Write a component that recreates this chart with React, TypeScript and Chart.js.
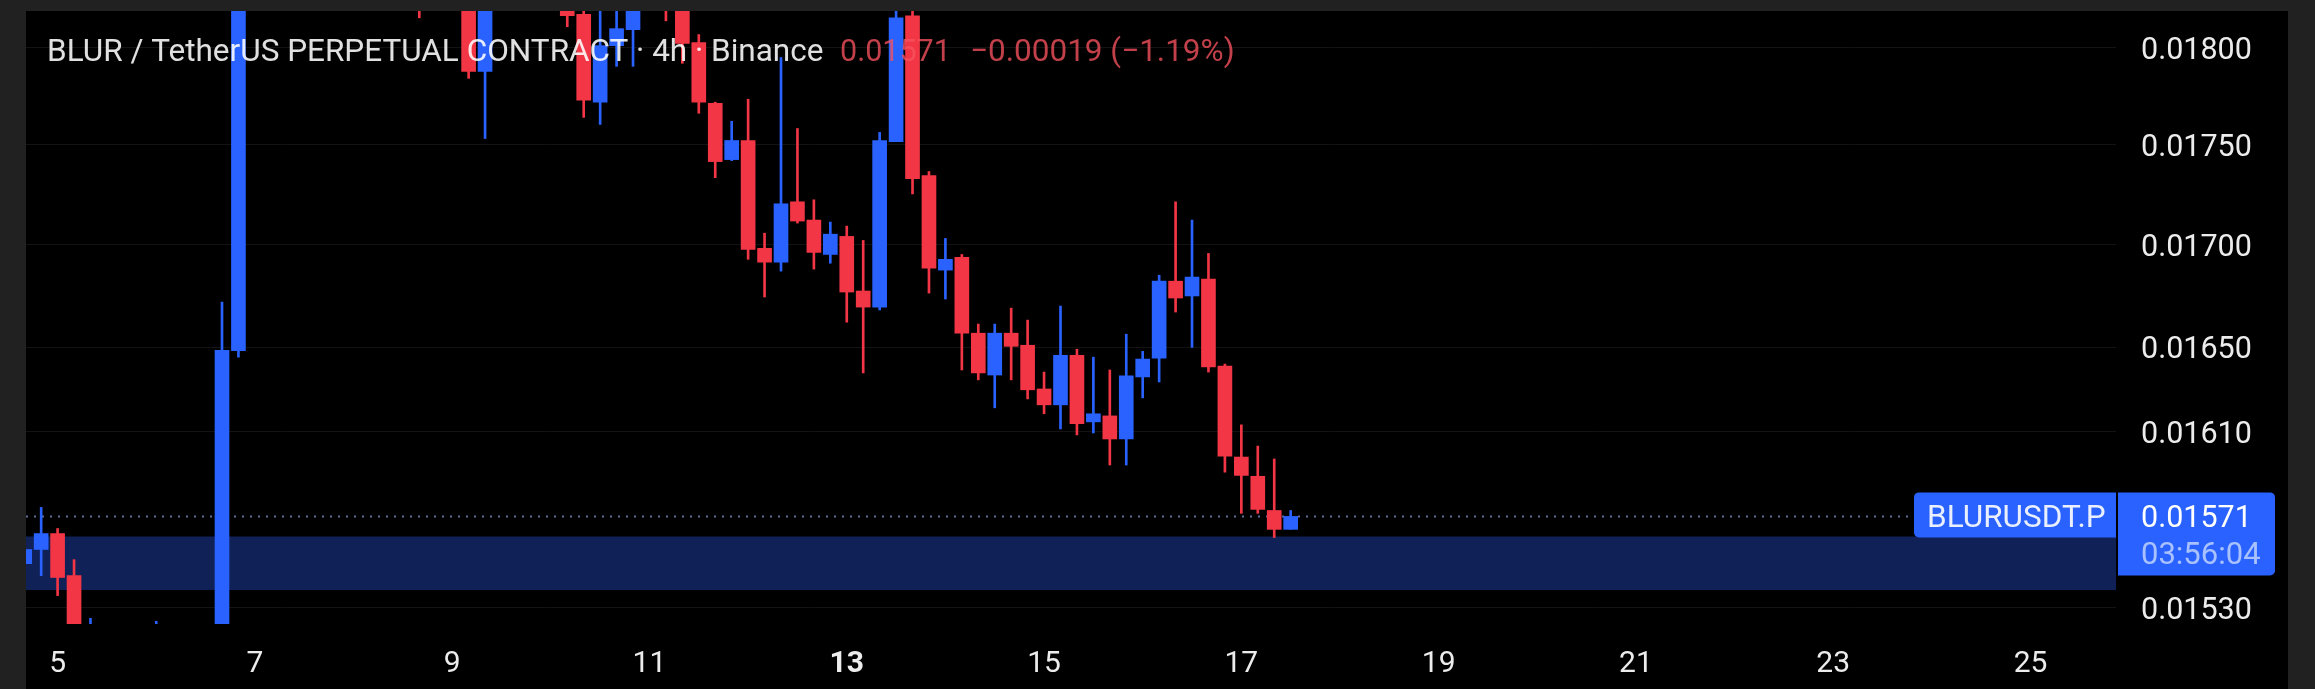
import React, { useEffect, useRef } from "react";
import { Chart, registerables } from "chart.js";

Chart.register(...registerables);

// candle slots: 0 is the first 4h bar of day 5, six bars per day
const slots = [-2, -1, 0, 1, 2, 6, 10, 11, 22, 25, 26, 31, 32, 33, 34, 35, 37, 38, 39, 40, 41, 42, 43, 44, 45, 46, 47, 48, 49, 50, 51, 52, 53, 54, 55, 56, 57, 58, 59, 60, 61, 62, 63, 64, 65, 66, 67, 68, 69, 70, 71, 72, 73, 74, 75];
const opens = [0.015496, 0.01556, 0.015632, 0.015442, 0.0149, 0.0149, 0.015, 0.016484, 0.0186, 0.0186, 0.017876, 0.0186, 0.018175, 0.017717, 0.01801, 0.018094, 0.0186, 0.0186, 0.018026, 0.017711, 0.017424, 0.017521, 0.016981, 0.016913, 0.017212, 0.017121, 0.016951, 0.01704, 0.016772, 0.016694, 0.017515, 0.018166, 0.017343, 0.016874, 0.016937, 0.016568, 0.016368, 0.016568, 0.01651, 0.016302, 0.016227, 0.016462, 0.016147, 0.016175, 0.016067, 0.016359, 0.016448, 0.01682, 0.016748, 0.01683, 0.016411, 0.015983, 0.015894, 0.015737, 0.015651];
const closes = [0.01556, 0.015632, 0.015434, 0.015, 0.015, 0.015, 0.016486, 0.0186, 0.0184, 0.017876, 0.0186, 0.018168, 0.017727, 0.01801, 0.018099, 0.0186, 0.0184, 0.018021, 0.017717, 0.017414, 0.017521, 0.016976, 0.016913, 0.017202, 0.017116, 0.016961, 0.017051, 0.016767, 0.016694, 0.017521, 0.018156, 0.017328, 0.016883, 0.016927, 0.016568, 0.016378, 0.016568, 0.016505, 0.016298, 0.016227, 0.016462, 0.016138, 0.016185, 0.016067, 0.016364, 0.016444, 0.01682, 0.016738, 0.01684, 0.016406, 0.015987, 0.015898, 0.015742, 0.015651, 0.01571];
const highs = [0.01556, 0.015751, 0.015655, 0.015514, 0.015252, 0.015239, 0.016718, 0.0186, 0.0187, 0.0187, 0.0187, 0.0187, 0.0186, 0.0186, 0.0186, 0.0187, 0.0187, 0.0187, 0.018068, 0.017717, 0.017619, 0.017732, 0.017056, 0.017948, 0.017582, 0.017222, 0.017111, 0.017091, 0.01702, 0.017562, 0.0186, 0.0186, 0.017364, 0.01703, 0.016951, 0.016612, 0.016612, 0.016689, 0.016631, 0.016382, 0.016699, 0.016491, 0.016453, 0.016392, 0.016563, 0.016481, 0.016849, 0.017212, 0.017121, 0.016956, 0.01642, 0.016133, 0.016034, 0.015974, 0.015737];
const lows = [0.015496, 0.015442, 0.015353, 0.015, 0.0149, 0.0149, 0.015, 0.016453, 0.018156, 0.01784, 0.017531, 0.018109, 0.017639, 0.017603, 0.017902, 0.017902, 0.01814, 0.017918, 0.01766, 0.017333, 0.017419, 0.016927, 0.016743, 0.016869, 0.017106, 0.016879, 0.016908, 0.016621, 0.016378, 0.01668, 0.017515, 0.017252, 0.016762, 0.016733, 0.016392, 0.016345, 0.016213, 0.016345, 0.016255, 0.016185, 0.016114, 0.016086, 0.016095, 0.015946, 0.015946, 0.01626, 0.016335, 0.01667, 0.0165, 0.016382, 0.015913, 0.015724, 0.015724, 0.015614, 0.015651];

const priceTicks = [0.018, 0.0175, 0.017, 0.0165, 0.0161, 0.0153];
const dayTicks = [0, 12, 24, 36, 48, 60, 72, 84, 96, 108, 120];
const dayLabels = ["5", "7", "9", "11", "13", "15", "17", "19", "21", "23", "25"];

const zoneTop = 0.015619;
const zoneBottom = 0.015378;
const lastPrice = 0.01571;

const UP = "#2962ff";
const DOWN = "#f23645";
const FONT = "Roboto";

const xMin = -1.922;
const xMax = 125.2;
const yMin = 0.015227;
const yMax = 0.018192;

const overlay = {
    id: "overlay",
    afterDatasetsDraw(chart: Chart) {
        const { ctx, chartArea, scales } = chart;
        const right = chartArea.right;
        const py = scales.y.getPixelForValue(lastPrice);

        ctx.save();
        ctx.textBaseline = "middle";
        ctx.textAlign = "left";

        // legend line, painted over the candles
        ctx.font = `31.5px ${FONT}`;
        ctx.fillStyle = "rgba(255,255,255,0.88)";
        ctx.fillText("BLUR / TetherUS PERPETUAL CONTRACT · 4h · Binance", 21, 42);
        ctx.fillStyle = "rgba(247,82,95,0.78)";
        ctx.font = `30.5px ${FONT}`;
        ctx.fillText("0.01571", 814, 42);
        ctx.font = `31.5px ${FONT}`;
        ctx.fillText("−0.00019 (−1.19%)", 944, 42);

        // symbol tag and last price tag
        ctx.fillStyle = UP;
        ctx.beginPath();
        ctx.roundRect(right - 202, py - 24, 202, 45, [5, 0, 0, 5]);
        ctx.fill();
        ctx.beginPath();
        ctx.roundRect(right + 2, py - 24, 157, 83, [0, 5, 5, 0]);
        ctx.fill();

        ctx.font = `31.5px ${FONT}`;
        ctx.fillStyle = "#e9efff";
        ctx.fillText("BLURUSDT.P", right - 189, py + 3);
        ctx.font = `30.5px ${FONT}`;
        ctx.fillStyle = "#ffffff";
        ctx.fillText("0.01571", right + 25, py + 3);
        ctx.font = `31px ${FONT}`;
        ctx.fillStyle = "#a9c1ff";
        ctx.fillText("03:56:04", right + 25, py + 40);
        ctx.restore();
    },
};

const noPadding = (scale: any) => {
    scale.paddingTop = 0;
    scale.paddingBottom = 0;
    scale.paddingLeft = 0;
    scale.paddingRight = 0;
};

const App: React.FC = () => {
    const chartRef = useRef<HTMLCanvasElement | null>(null);

    useEffect(() => {
        document.body.style.margin = "0";
        if (!chartRef.current) return;

        const colors = slots.map((_, i) => (closes[i] >= opens[i] ? UP : DOWN));

        const chart = new Chart(chartRef.current, {
            type: "bar",
            data: {
                datasets: [
                    {
                        label: "bodies",
                        order: 1,
                        grouped: false,
                        barThickness: 14,
                        backgroundColor: colors,
                        data: slots.map((x, i) => ({ x, y: [opens[i], closes[i]] })),
                    },
                    {
                        label: "wicks",
                        order: 2,
                        grouped: false,
                        barThickness: 2,
                        backgroundColor: colors,
                        data: slots.map((x, i) => ({ x, y: [lows[i], highs[i]] })),
                    },
                    {
                        type: "line",
                        label: "last price",
                        order: 3,
                        borderColor: "#5f6f99",
                        borderWidth: 2,
                        borderDash: [2, 6],
                        pointRadius: 0,
                        data: [
                            { x: xMin, y: lastPrice },
                            { x: xMax, y: lastPrice },
                        ],
                    },
                    {
                        type: "line",
                        label: "zone",
                        order: 4,
                        borderWidth: 0,
                        pointRadius: 0,
                        backgroundColor: "#102158",
                        fill: { target: { value: zoneBottom } },
                        data: [
                            { x: xMin, y: zoneTop },
                            { x: xMax, y: zoneTop },
                        ],
                    },
                ],
            } as any,
            options: {
                animation: false,
                responsive: false,
                devicePixelRatio: 1,
                layout: { padding: 0 },
                plugins: { legend: { display: false }, tooltip: { enabled: false } },
                scales: {
                    x: {
                        type: "linear",
                        offset: false,
                        bounds: "data",
                        min: xMin,
                        max: xMax,
                        grid: { display: false, drawTicks: false },
                        border: { display: false },
                        afterBuildTicks: (scale: any) => {
                            scale.ticks = dayTicks.map((value) => ({ value }));
                        },
                        afterFit: (scale: any) => {
                            scale.height = 65;
                            noPadding(scale);
                        },
                        ticks: {
                            autoSkip: false,
                            maxRotation: 0,
                            padding: 22,
                            color: "#ececec",
                            font: (ctx: any) => ({
                                family: FONT,
                                size: 30,
                                weight: ctx.tick && ctx.tick.value === 48 ? "bold" : "normal",
                            }),
                            callback: (value: any) => dayLabels[dayTicks.indexOf(Number(value))],
                        },
                    },
                    y: {
                        type: "logarithmic",
                        position: "right",
                        bounds: "data",
                        min: yMin,
                        max: yMax,
                        grid: { color: "#131313", lineWidth: 1, drawTicks: false },
                        border: { display: false },
                        afterBuildTicks: (scale: any) => {
                            scale.ticks = priceTicks.map((value) => ({ value }));
                        },
                        afterFit: (scale: any) => {
                            scale.width = 172;
                            noPadding(scale);
                        },
                        ticks: {
                            autoSkip: false,
                            padding: 25,
                            crossAlign: "near",
                            labelOffset: 3.5,
                            color: "#ececec",
                            font: { family: FONT, size: 30.5 },
                            callback: (value: any) => Number(value).toFixed(5),
                        },
                    },
                },
            } as any,
            plugins: [overlay],
        });

        return () => {
            chart.destroy();
        };
    }, []);

    return (
        <div style={{ position: "relative", width: 2315, height: 689, background: "#212121", overflow: "hidden" }}>
            <div style={{ position: "absolute", left: 26, top: 11, width: 2262, height: 678, background: "#000000" }}>
                <canvas ref={chartRef} width={2262} height={678} style={{ display: "block" }}></canvas>
            </div>
        </div>
    );
};

export default App;
